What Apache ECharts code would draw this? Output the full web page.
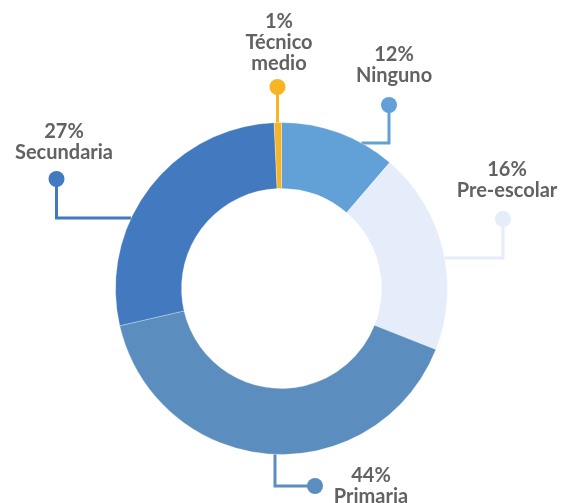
<!DOCTYPE html>
<html>
<head>
<meta charset="utf-8">
<script src="https://cdn.jsdelivr.net/npm/echarts@6/dist/echarts.min.js"></script>
<style>
html,body{margin:0;padding:0;background:#fff;}
#chart{width:563px;height:503px;}
</style>
</head>
<body>
<div id="chart"></div>
<script>
// ---- data ----
var categories = ['Ninguno', 'Pre-escolar', 'Primaria', 'Secundaria', 'Técnico medio'];
var values = [11.3, 19.7, 40.4, 27.9, 0.7];          // slice sizes as drawn
var labelPct = [12, 16, 44, 27, 1];                   // percentages printed in labels
var colors = ['#62A0D8', '#E5EDFA', '#5B8DBE', '#4279BF', '#F7B523'];

// ---- layout (pixels) ----
var CX = 281.5, CY = 288.5, R_IN = 100, R_OUT = 166;
function edgeAtY(y, side) { var dy = y - CY; return [CX + side * Math.sqrt(R_OUT * R_OUT - dy * dy), y]; }
function edgeAtX(x, side) { var dx = x - CX; return [x, CY + side * Math.sqrt(R_OUT * R_OUT - dx * dx)]; }

var LAYOUT = [
  { label: [394, 65],  dot: [389, 105], pts: function(){ var e = edgeAtY(143, 1); return [e, [389, 143], [389, 105]]; } },
  { label: [507, 180], dot: [503, 219], pts: function(){ var e = edgeAtY(258, 1); return [e, [503, 258], [503, 219]]; } },
  { label: [371, 486], dot: [315, 486], pts: function(){ var e = edgeAtX(275, 1); return [e, [275, 486], [315, 486]]; } },
  { label: [64, 142],  dot: [56.5, 179], pts: function(){ var e = edgeAtY(218, -1); return [e, [56.5, 218], [56.5, 179]]; } },
  { label: [279, 43],  dot: [277.5, 87], pts: function(){ var e = edgeAtX(277.5, -1); return [e, [277.5, 105], [277.5, 87]]; } }
];

var chart = echarts.init(document.getElementById('chart'), null, { renderer: 'canvas' });

var seriesData = categories.map(function (c, i) {
  return { name: c, value: values[i], itemStyle: { color: colors[i] } };
});

var option = {
  animation: false,
  backgroundColor: '#ffffff',
  series: [{
    type: 'pie',
    center: [CX, CY],
    radius: [R_IN, R_OUT],
    startAngle: 90,
    clockwise: true,
    data: seriesData,
    itemStyle: { borderColor: 'rgba(255,255,255,0.6)', borderWidth: 0.5 },
    label: {
      show: true,
      formatter: function (p) {
        var n = p.name === 'Técnico medio' ? 'Técnico\nmedio' : p.name;
        return labelPct[p.dataIndex] + '%\n' + n;
      },
      fontFamily: 'Lato',
      fontWeight: 'bold',
      fontSize: 20,
      lineHeight: 21,
      color: '#626262',
      align: 'center',
      overflow: 'none',
      width: 200
    },
    labelLine: { show: true, smooth: false, lineStyle: { width: 3 } },
    labelLayout: function (p) {
      var L = LAYOUT[p.dataIndex];
      return {
        x: L.label[0], y: L.label[1],
        align: 'center', verticalAlign: 'middle',
        labelLinePoints: L.pts()
      };
    },
    emphasis: { disabled: true }
  }],
  graphic: LAYOUT.map(function (L, i) {
    return { type: 'circle', shape: { cx: L.dot[0], cy: L.dot[1], r: 8 }, style: { fill: colors[i] }, z: 10 };
  })
};
chart.setOption(option);
</script>
</body>
</html>
